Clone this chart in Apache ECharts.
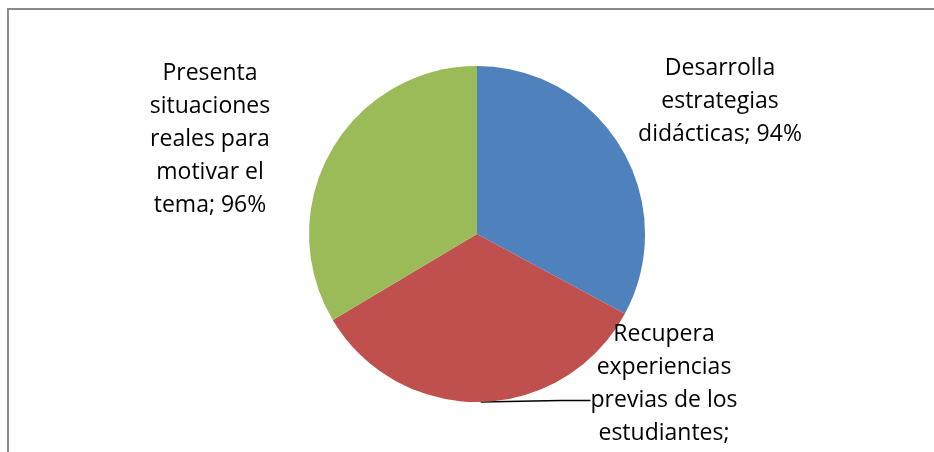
<!DOCTYPE html>
<html>
<head>
<meta charset="utf-8">
<script src="https://cdn.jsdelivr.net/npm/echarts@6/dist/echarts.min.js"></script>
<style>html,body{margin:0;padding:0;background:#fff}#c{width:934px;height:452px}</style>
</head>
<body>
<div id="c"></div>
<script>
var categories = ['Desarrolla\nestrategias\ndidácticas', 'Recupera\nexperiencias\nprevias de los\nestudiantes', 'Presenta\nsituaciones\nreales para\nmotivar el\ntema'];
var values = [94, 96, 96];
var colors = ['#4F81BD', '#C0504D', '#9BBB59'];
var labelPos = [
  {x: 720, y: 52},
  {x: 664, y: 318},
  {x: 210, y: 57}
];
var chart = echarts.init(document.getElementById('c'), null, {renderer: 'canvas'});
chart.setOption({
  animation: false,
  graphic: [{
    type: 'rect', shape: {x: 8, y: 9, width: 1000, height: 1000},
    style: {fill: 'none', stroke: '#8a8a8a', lineWidth: 2}, silent: true
  }],
  series: [{
    type: 'pie',
    center: [477, 234],
    radius: [0, 168],
    startAngle: 90,
    clockwise: true,
    data: categories.map(function (c, i) {
      return {
        name: c, value: values[i],
        itemStyle: {color: colors[i]},
        labelLine: {show: i === 1}
      };
    }),
    label: {
      show: true,
      formatter: function (p) {
        var n = p.name;
        return n + (p.dataIndex === 1 ? ';\n' : '; ') + p.value + '%';
      },
      fontFamily: 'Open Sans',
      fontSize: 23,
      lineHeight: 33,
      color: '#000',
      align: 'center'
    },
    labelLine: {lineStyle: {color: '#000', width: 1.5}, smooth: false},
    labelLayout: function (params) {
      var p = labelPos[params.dataIndex];
      return {x: p.x, y: p.y, align: 'center', verticalAlign: 'top'};
    },
    emphasis: {disabled: true}
  }]
});
</script>
</body>
</html>
